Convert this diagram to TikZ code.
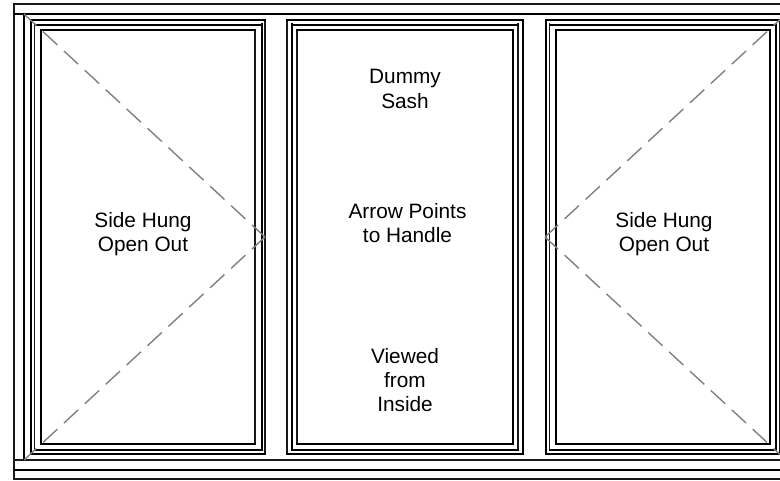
\documentclass[tikz,border=0pt]{standalone}
\usepackage{fontspec}
\setmainfont{Liberation Sans}
\tikzset{
  heavyline/.style={draw=black,line width=1.5pt,line cap=rect},
  midline/.style={draw=black,line width=1.0pt,line cap=rect},
  lightline/.style={draw=black!90,line width=0.8pt,line cap=rect},
  diag/.style={draw=black!50,line width=1.05pt,dash pattern=on 14.6pt off 6.75pt,dash phase=1.9pt},
  lbl/.style={align=center,font=\fontsize{15.6pt}{18.2pt}\selectfont,inner sep=0pt,text=black}
}
\begin{document}
\begin{tikzpicture}[x=0.75pt,y=-0.75pt]
\useasboundingbox (0,0) rectangle (780,480);
\clip (0,0) rectangle (780,480);
% outer frame
\draw[lightline] (14,4) rectangle (800,479);
\draw[heavyline] (14,470) -- (800,470);
\draw[lightline] (14,460) -- (800,460);
\draw[heavyline] (14,14) -- (800,14);
\draw[heavyline] (24,14) -- (24,460);
% sash verticals
\foreach \x/\t/\b/\s in {
  30.5/20/454/heavyline, 34.5/24/450/lightline, 40.5/30/444/heavyline,
  255/30/444/lightline, 261.5/24/450/heavyline, 265/20/454/lightline,
  287/20/454/lightline, 291.5/24/450/heavyline, 297/30/444/lightline,
  512.5/30/444/heavyline, 518/24/450/lightline, 522.5/20/454/heavyline,
  545.5/20/454/heavyline, 549.5/24/450/lightline, 555.5/30/444/heavyline,
  769.5/30/444/heavyline, 775.5/24/450/heavyline, 779.5/20/454/lightline}
  {\draw[\s] (\x,\t) -- (\x,\b);}
% sash horizontals
\foreach \a/\b in {30.5/265, 287/522.5, 545.5/785}{
  \draw[midline] (\a,20) -- (\b,20);
  \draw[heavyline] (\a,453.5) -- (\b,453.5);
}
\foreach \a/\b in {34.5/261.5, 291.5/518, 549.5/775.5}{
  \draw[heavyline] (\a,24.5) -- (\b,24.5);
  \draw[midline] (\a,450) -- (\b,450);
}
\foreach \a/\b in {40.5/255, 297/512.5, 555.5/769.5}{
  \draw[midline] (\a,30) -- (\b,30);
  \draw[midline] (\a,444) -- (\b,444);
}
% opening diagonals
\coordinate (lt) at (24,14);
\coordinate (lb) at (24,460);
\coordinate (lh) at (265,237);
\coordinate (rt) at (786,14);
\coordinate (rb) at (786,460);
\coordinate (rh) at (545,237);
\draw[diag] (lt) -- (lh);
\draw[diag] (lb) -- (lh);
\draw[diag] (rt) -- (rh);
\draw[diag] (rb) -- (rh);
% labels
\node[lbl] (left) at (143,234) {Side Hung\\Open Out};
\node[lbl] (dummy) at (405,89) {Dummy\\Sash};
\node[lbl] (arrow) at (407.5,223) {Arrow Points\\to Handle};
\node[lbl] (viewed) at (405,380) {Viewed\\from\\Inside};
\node[lbl] (right) at (664,234) {Side Hung\\Open Out};
\end{tikzpicture}
\end{document}
